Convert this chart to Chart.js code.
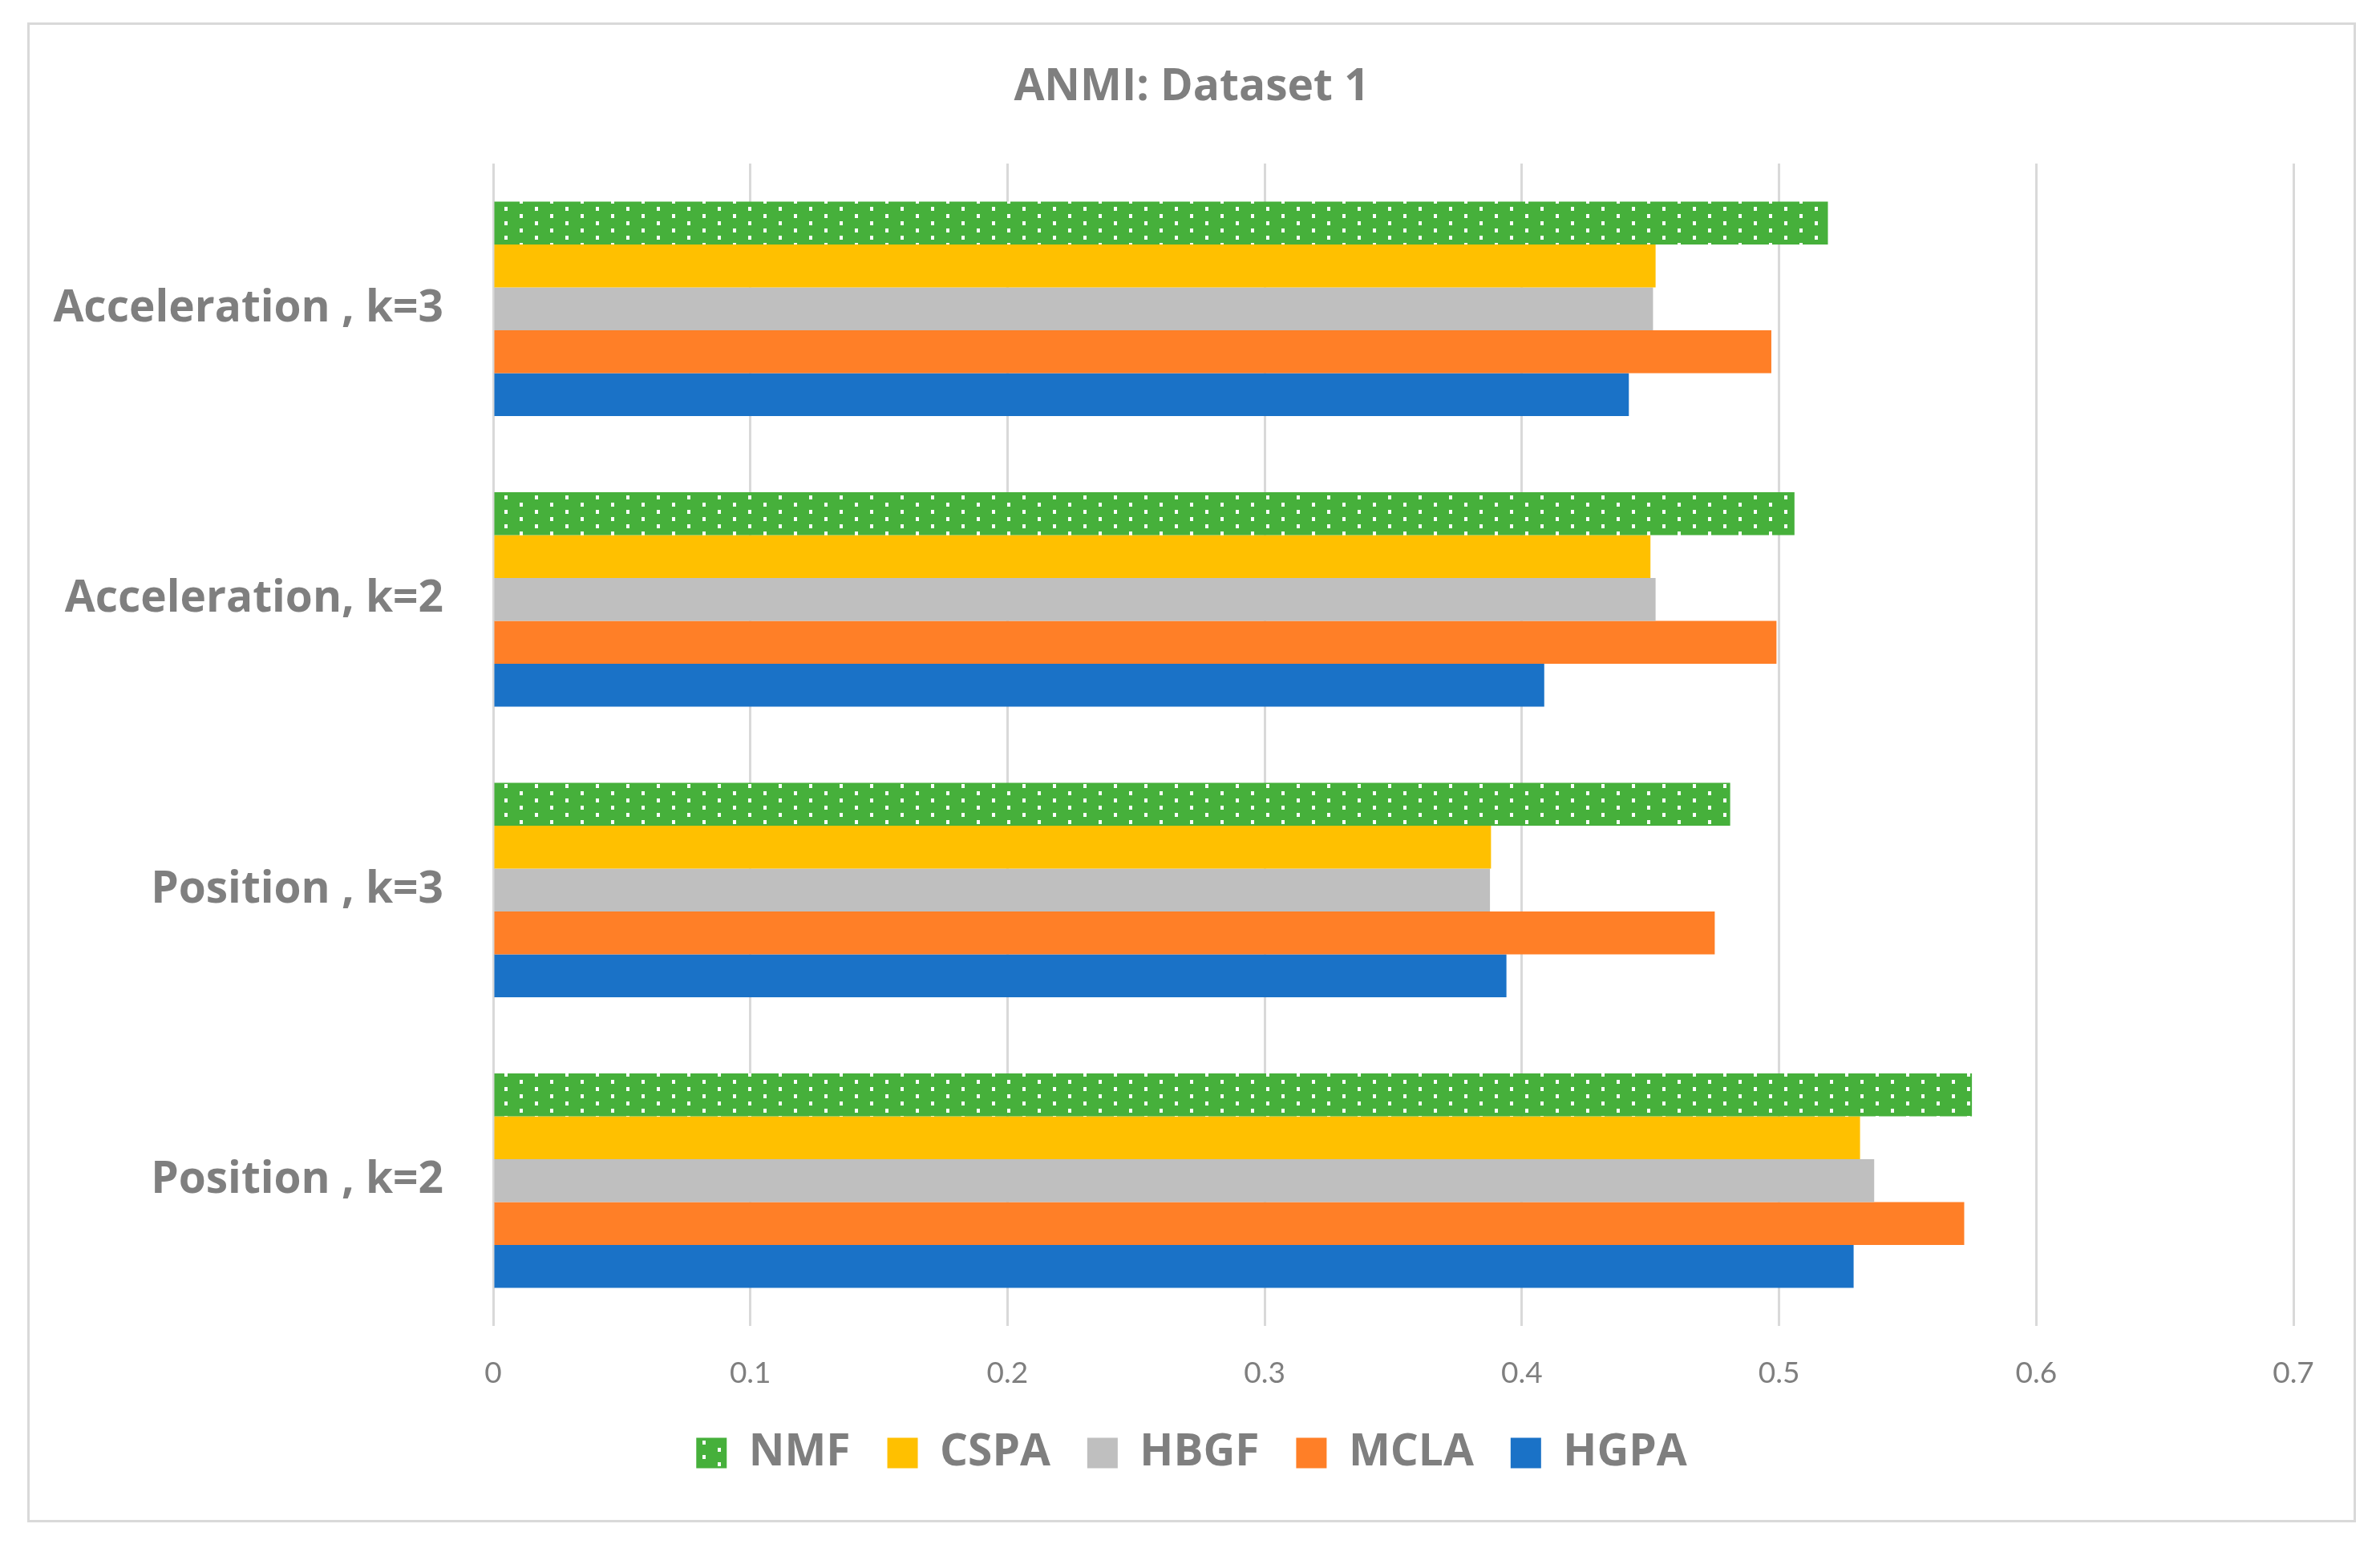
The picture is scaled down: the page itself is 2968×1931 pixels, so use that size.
<!DOCTYPE html>
<html>
<head>
<meta charset="utf-8">
<script src="https://cdn.jsdelivr.net/npm/chart.js@4"></script>
<style>
  html, body { margin: 0; padding: 0; background: #ffffff; }
  #box {
    position: absolute; left: 34px; top: 28px;
    width: 2904px; height: 1871px;
    box-sizing: border-box;
    border: 3px solid #d9d9d9;
    background: #ffffff;
  }
  #wrap { position: relative; width: 2898px; height: 1865px; }
</style>
</head>
<body>
<div id="box"><div id="wrap"><canvas id="grafico"></canvas></div></div>
<script>
// datos
const categorias = ["Acceleration , k=3", "Acceleration, k=2", "Position , k=3", "Position , k=2"];
const nmf  = [0.519, 0.506, 0.481, 0.575];
const cspa = [0.452, 0.450, 0.388, 0.5315];
const hbgf = [0.451, 0.452, 0.3876, 0.537];
const mcla = [0.497, 0.499, 0.475, 0.572];
const hgpa = [0.4416, 0.4087, 0.394, 0.529];
const ejeMin = 0;
const ejeMax = 0.7;
const ejePaso = 0.1;

const gris = "#7f7f7f";

// trama de puntos blancos para NMF
function tramaPuntos(fondo) {
    const c = document.createElement("canvas");
    c.width = 38;
    c.height = 18;
    const g = c.getContext("2d");
    g.fillStyle = fondo;
    g.fillRect(0, 0, 38, 18);
    g.fillStyle = "#ffffff";
    g.fillRect(3, 2, 4, 5);
    g.fillRect(22, 11, 4, 5);
    return g.createPattern(c, "repeat");
}

const ctx = document.getElementById("grafico").getContext("2d");

new Chart(ctx, {
    type: "bar",
    data: {
        labels: categorias,
        datasets: [
            { label: "NMF",  data: nmf,  backgroundColor: tramaPuntos("#46b03b") },
            { label: "CSPA", data: cspa, backgroundColor: "#ffc000" },
            { label: "HBGF", data: hbgf, backgroundColor: "#bfbfbf" },
            { label: "MCLA", data: mcla, backgroundColor: "#ff7f27" },
            { label: "HGPA", data: hgpa, backgroundColor: "#1a72c7" },
        ],
    },
    options: {
        indexAxis: "y",
        responsive: true,
        maintainAspectRatio: false,
        animation: false,
        layout: { padding: { left: 0, right: 0, top: 0, bottom: 46 } },
        datasets: {
            bar: { categoryPercentage: 0.738, barPercentage: 1.0, borderWidth: 0 },
        },
        scales: {
            x: {
                min: ejeMin,
                max: ejeMax,
                ticks: {
                    stepSize: ejePaso,
                    color: gris,
                    padding: 37,
                    font: { family: "Lato", size: 37 },
                },
                grid: { color: "#d9d9d9", lineWidth: 3, drawTicks: false },
                border: { display: false },
                afterFit: (s) => { s.height = 85; },
            },
            y: {
                ticks: {
                    color: gris,
                    padding: 62,
                    font: { family: "Open Sans", size: 55, weight: "bold" },
                },
                grid: { display: false, drawTicks: false },
                border: { display: false },
                afterFit: (s) => { s.width = 578; },
            },
            // margen derecho vacio, para que titulo y leyenda queden centrados
            margenDer: {
                type: "category",
                position: "right",
                ticks: { display: false },
                grid: { display: false, drawTicks: false },
                border: { display: false },
                afterFit: (s) => { s.width = 75; },
            },
        },
        plugins: {
            title: {
                display: true,
                text: "ANMI: Dataset 1",
                color: gris,
                font: { family: "Open Sans", size: 55, weight: "bold" },
                padding: { top: 45, bottom: 62 },
            },
            legend: {
                position: "bottom",
                labels: {
                    color: gris,
                    boxWidth: 38,
                    boxHeight: 38,
                    padding: 46,
                    font: { family: "Open Sans", size: 55, weight: "bold" },
                },
            },
            tooltip: { enabled: false },
        },
    },
});
</script>
</body>
</html>
